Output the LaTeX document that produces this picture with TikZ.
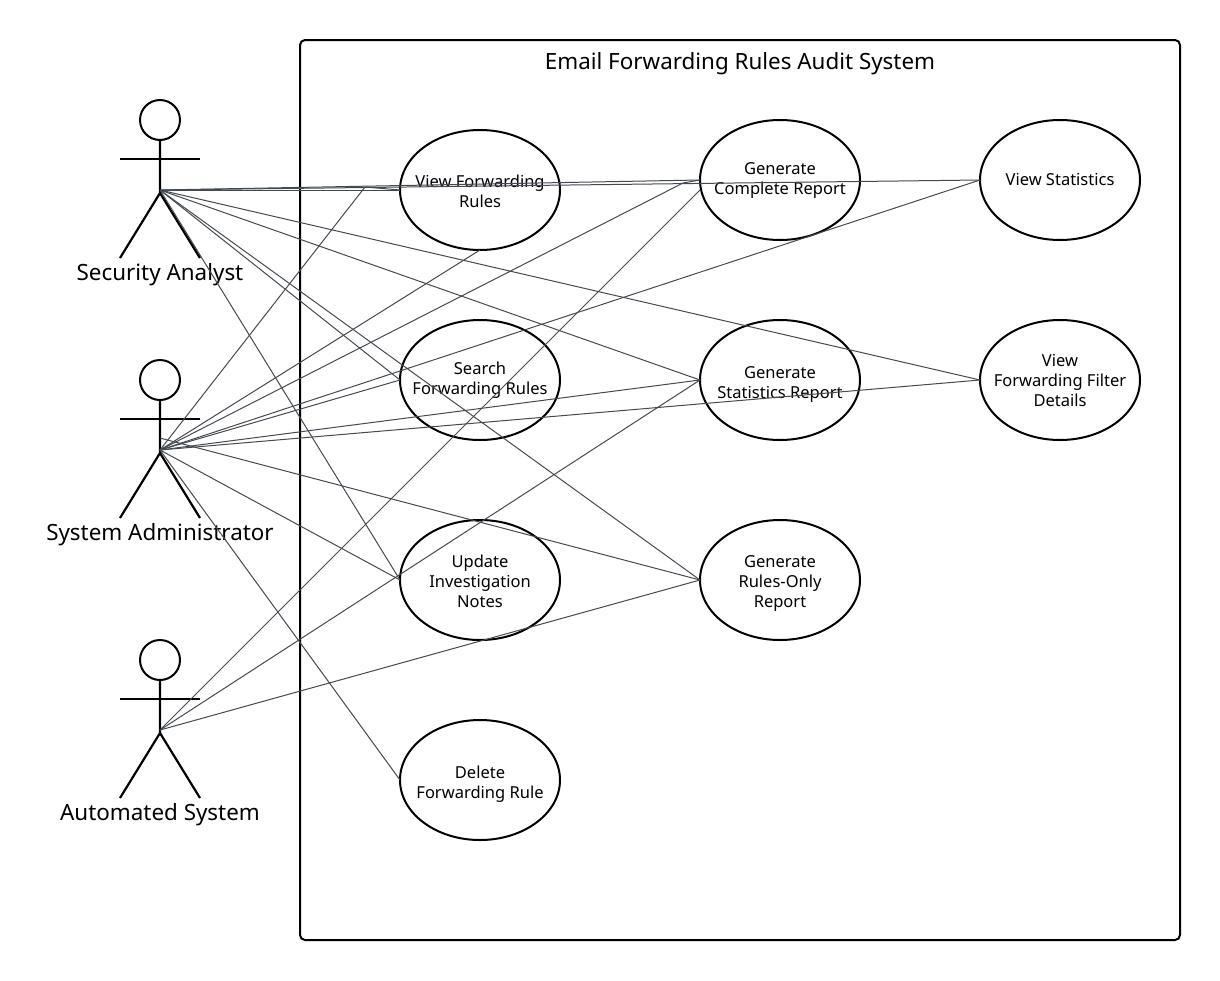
\documentclass[tikz,border=0pt]{standalone}
\usepackage{fontspec}
\setmainfont{Noto Sans}
\usetikzlibrary{shapes.geometric}
\definecolor{linkc}{HTML}{444A52}
\newcommand{\casetext}[2]{\raisebox{\dimexpr-2.5pt-#1\relax}[0pt][0pt]{\begin{tabular}{@{}c@{}}#2\end{tabular}}}
\tikzset{
  x=1pt,y=-1pt,
  usecase/.style={ellipse,draw=black,line width=2pt,minimum width=160pt,minimum height=120pt,inner sep=-30pt,outer sep=0pt,font=\fontsize{16.5}{20}\selectfont},
  frame/.style={draw=black,line width=2pt,rounded corners=5pt},
  limb/.style={draw=black,line width=2.2pt},
  head/.style={circle,draw=black,line width=2pt,minimum size=40pt,inner sep=0pt,outer sep=0pt},
  actorlabel/.style={font=\fontsize{22.4}{26}\selectfont,inner sep=0pt},
  titlelabel/.style={font=\fontsize{22.4}{26}\selectfont,inner sep=0pt},
  link/.style={draw=linkc,line width=1pt},
}
\begin{document}
\begin{tikzpicture}
\useasboundingbox (0,0) rectangle (1220,980);
\path[frame] (300,40) rectangle (1180,940);
\node[titlelabel] (title) at (740,64) {Email Forwarding Rules Audit System};

\node[usecase] (vfr) at (480,190) {\casetext{5pt}{View Forwarding\\Rules}};
\node[usecase] (sfr) at (480,380) {\casetext{2pt}{Search\\Forwarding Rules}};
\node[usecase] (uin) at (480,580) {\casetext{5pt}{Update\\Investigation\\Notes}};
\node[usecase] (dfr) at (480,780) {\casetext{6pt}{Delete\\Forwarding Rule}};
\node[usecase] (gcr) at (780,180) {\casetext{2pt}{Generate\\Complete Report}};
\node[usecase] (gsr) at (780,380) {\casetext{6pt}{Generate\\Statistics Report}};
\node[usecase] (gro) at (780,580) {\casetext{5pt}{Generate\\Rules-Only\\Report}};
\node[usecase] (vst) at (1060,180) {\casetext{3pt}{View Statistics}};
\node[usecase] (vfd) at (1060,380) {\casetext{4pt}{View\\Forwarding Filter\\Details}};

% actors
\node[head] (h1) at (160,120) {};
\coordinate (n1) at (160,190);
\coordinate (w1) at (160,193);
\coordinate (a1l) at (120,159);
\coordinate (a1r) at (200,159);
\coordinate (f1l) at (120,258);
\coordinate (f1r) at (200,258);
\draw[limb] (h1.south) -- (w1) -- (f1l);
\draw[limb] (w1) -- (f1r);
\draw[limb] (a1l) -- (a1r);
\node[actorlabel] (l1) at (160,275) {Security Analyst};

\node[head] (h2) at (160,380) {};
\coordinate (n2) at (160,450);
\coordinate (w2) at (160,453);
\coordinate (a2l) at (120,419);
\coordinate (a2r) at (200,419);
\coordinate (f2l) at (120,518);
\coordinate (f2r) at (200,518);
\coordinate (n2b) at (160,438);
\draw[limb] (h2.south) -- (w2) -- (f2l);
\draw[limb] (w2) -- (f2r);
\draw[limb] (a2l) -- (a2r);
\node[actorlabel] (l2) at (160,535) {System Administrator};

\node[head] (h3) at (160,660) {};
\coordinate (n3) at (160,730);
\coordinate (w3) at (160,733);
\coordinate (a3l) at (120,699);
\coordinate (a3r) at (200,699);
\coordinate (f3l) at (120,798);
\coordinate (f3r) at (200,798);
\draw[limb] (h3.south) -- (w3) -- (f3l);
\draw[limb] (w3) -- (f3r);
\draw[limb] (a3l) -- (a3r);
\node[actorlabel] (l3) at (160,815) {Automated System};

% waypoints
\coordinate (bendA) at (365,187);
\coordinate (bendB) at (683,183);
\coordinate (gcrlow) at (700,190);

% connectors: Security Analyst
\draw[link] (n1) -- (vfr.west);
\draw[link] (n1) -- (sfr.west);
\draw[link] (n1) -- (uin.west);
\draw[link] (n1) -- (gcr.west);
\draw[link] (n1) -- (gsr.west);
\draw[link] (n1) -- (gro.west);
\draw[link] (n1) -- (vst.west);
\draw[link] (n1) -- (vfd.west);
% connectors: System Administrator
\draw[link] (n2) -- (bendA) -- (vfr.west);
\draw[link] (n2) -- (vfr.south);
\draw[link] (n2) -- (sfr.west);
\draw[link] (n2) -- (uin.west);
\draw[link] (n2) -- (dfr.west);
\draw[link] (n2) -- (bendB) -- (gcr.west);
\draw[link] (n2) -- (gsr.west);
\draw[link] (n2b) -- (gro.west);
\draw[link] (n2) -- (vst.west);
\draw[link] (n2) -- (vfd.west);
% connectors: Automated System
\draw[link] (n3) -- (gcrlow);
\draw[link] (n3) -- (gsr.west);
\draw[link] (n3) -- (gro.west);
\end{tikzpicture}
\end{document}
